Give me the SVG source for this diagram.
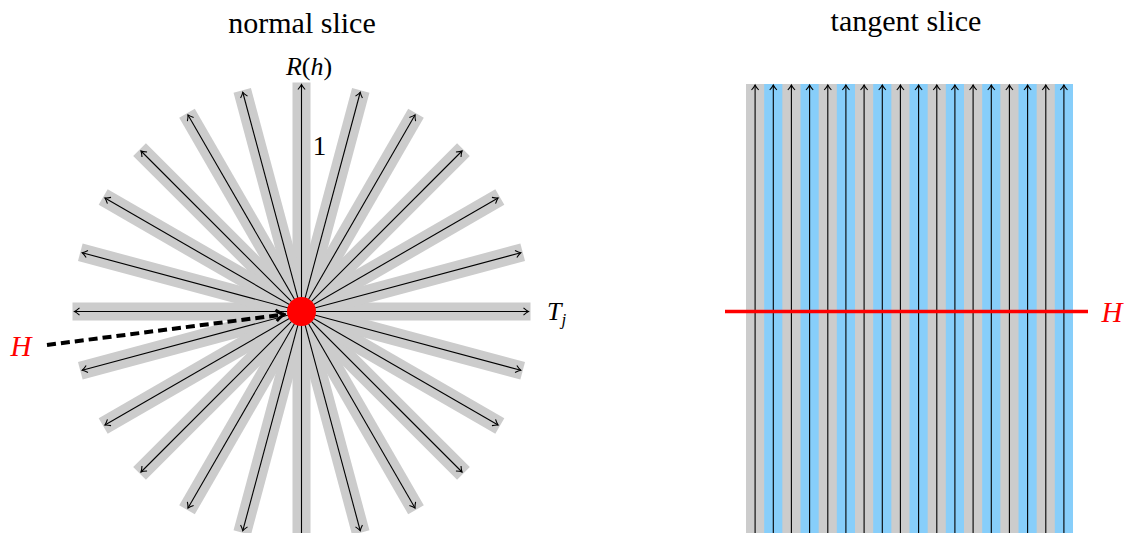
<svg xmlns="http://www.w3.org/2000/svg" xmlns:xlink="http://www.w3.org/1999/xlink" width="1124" height="533" viewBox="0 0 1124 533">
<style>
.t{font-family:'Liberation Serif','Times New Roman','DejaVu Serif',serif;fill:#000}
.it{font-style:italic}
.band{stroke:#cccccc;stroke-width:18;fill:none}
.ray{stroke:#000;stroke-width:1.1;fill:none;marker-start:url(#ah);marker-end:url(#ah)}
.up{stroke:#000;stroke-width:1.1;fill:none;marker-end:url(#ah)}
.red{fill:#ff0000}
</style>
<defs>
<marker id="ah" markerUnits="userSpaceOnUse" viewBox="-8 -6 10 12" refX="0" refY="0" markerWidth="10" markerHeight="12" orient="auto-start-reverse">
<path d="M-5,-3.6 Q-2,-0.9 0,0 Q-2,0.9 -5,3.6" fill="none" stroke="#000" stroke-width="1.1"/>
</marker>
<marker id="bah" markerUnits="userSpaceOnUse" viewBox="-12 -9 14 18" refX="0" refY="0" markerWidth="14" markerHeight="18" orient="auto">
<path d="M-8,-5.5 Q-3,-1.3 0,0 Q-3,1.3 -8,5.5" fill="none" stroke="#000" stroke-width="3.2"/>
</marker>
<line id="bandline" x1="-229" y1="0" x2="229" y2="0" class="band"/>
<line id="rayline" x1="-227" y1="0" x2="227" y2="0" class="ray"/>
</defs>

<text class="t" font-family="Liberation Serif" x="302" y="33" font-size="30" text-anchor="middle">normal slice</text>
<text class="t" font-family="Liberation Serif" x="906" y="31" font-size="30" text-anchor="middle">tangent slice</text>

<g id="normal-slice">
<g id="bands" transform="translate(301.5,311.5)">
<use xlink:href="#bandline" transform="rotate(0)"/>
<use xlink:href="#bandline" transform="rotate(-15)"/>
<use xlink:href="#bandline" transform="rotate(-30)"/>
<use xlink:href="#bandline" transform="rotate(-45)"/>
<use xlink:href="#bandline" transform="rotate(-60)"/>
<use xlink:href="#bandline" transform="rotate(-75)"/>
<use xlink:href="#bandline" transform="rotate(-90)"/>
<use xlink:href="#bandline" transform="rotate(-105)"/>
<use xlink:href="#bandline" transform="rotate(-120)"/>
<use xlink:href="#bandline" transform="rotate(-135)"/>
<use xlink:href="#bandline" transform="rotate(-150)"/>
<use xlink:href="#bandline" transform="rotate(-165)"/>
</g>
<g id="rays" transform="translate(301.5,311.5)">
<use xlink:href="#rayline" transform="rotate(0)"/>
<use xlink:href="#rayline" transform="rotate(-15)"/>
<use xlink:href="#rayline" transform="rotate(-30)"/>
<use xlink:href="#rayline" transform="rotate(-45)"/>
<use xlink:href="#rayline" transform="rotate(-60)"/>
<use xlink:href="#rayline" transform="rotate(-75)"/>
<use xlink:href="#rayline" transform="rotate(-90)"/>
<use xlink:href="#rayline" transform="rotate(-105)"/>
<use xlink:href="#rayline" transform="rotate(-120)"/>
<use xlink:href="#rayline" transform="rotate(-135)"/>
<use xlink:href="#rayline" transform="rotate(-150)"/>
<use xlink:href="#rayline" transform="rotate(-165)"/>
</g>
<g id="H-arrow">
<line x1="47" y1="345" x2="284" y2="314.5" stroke="#000" stroke-width="4" stroke-dasharray="9,5" marker-end="url(#bah)"/>
</g>
<circle id="point" cx="301.5" cy="311.5" r="14.5" class="red"/>
<text class="t" font-family="Liberation Serif" x="309" y="75" font-size="26" text-anchor="middle"><tspan class="it">R</tspan>(<tspan class="it">h</tspan>)</text>
<text class="t" font-family="Liberation Serif" x="319.5" y="155" font-size="27" text-anchor="middle">1</text>
<text class="t it" font-family="Liberation Serif" x="547" y="320" font-size="26">T<tspan font-size="17" dy="5">j</tspan></text>
<text class="t it red" font-family="Liberation Serif" x="21" y="356" font-size="29" text-anchor="middle">H</text>
</g>

<g id="tangent-slice">
<rect x="746" y="84" width="327" height="449" fill="#cccccc"/>
<g fill="#87cefa">
<rect x="764.17" y="84" width="18.17" height="449"/>
<rect x="800.5" y="84" width="18.17" height="449"/>
<rect x="836.83" y="84" width="18.17" height="449"/>
<rect x="873.17" y="84" width="18.17" height="449"/>
<rect x="909.5" y="84" width="18.17" height="449"/>
<rect x="945.83" y="84" width="18.17" height="449"/>
<rect x="982.17" y="84" width="18.17" height="449"/>
<rect x="1018.5" y="84" width="18.17" height="449"/>
<rect x="1054.83" y="84" width="18.17" height="449"/>
</g>
<g id="tangent-arrows">
<line x1="755.1" y1="540" x2="755.1" y2="85" class="up"/>
<line x1="773.3" y1="540" x2="773.3" y2="85" class="up"/>
<line x1="791.4" y1="540" x2="791.4" y2="85" class="up"/>
<line x1="809.6" y1="540" x2="809.6" y2="85" class="up"/>
<line x1="827.8" y1="540" x2="827.8" y2="85" class="up"/>
<line x1="845.9" y1="540" x2="845.9" y2="85" class="up"/>
<line x1="864.1" y1="540" x2="864.1" y2="85" class="up"/>
<line x1="882.3" y1="540" x2="882.3" y2="85" class="up"/>
<line x1="900.4" y1="540" x2="900.4" y2="85" class="up"/>
<line x1="918.6" y1="540" x2="918.6" y2="85" class="up"/>
<line x1="936.8" y1="540" x2="936.8" y2="85" class="up"/>
<line x1="954.9" y1="540" x2="954.9" y2="85" class="up"/>
<line x1="973.1" y1="540" x2="973.1" y2="85" class="up"/>
<line x1="991.3" y1="540" x2="991.3" y2="85" class="up"/>
<line x1="1009.4" y1="540" x2="1009.4" y2="85" class="up"/>
<line x1="1027.6" y1="540" x2="1027.6" y2="85" class="up"/>
<line x1="1045.8" y1="540" x2="1045.8" y2="85" class="up"/>
<line x1="1063.9" y1="540" x2="1063.9" y2="85" class="up"/>
</g>
<line id="H-line" x1="725" y1="311.5" x2="1088" y2="311.5" stroke="#ff0000" stroke-width="3.5"/>
<text class="t it red" font-family="Liberation Serif" x="1112" y="322" font-size="29" text-anchor="middle">H</text>
</g>
</svg>
